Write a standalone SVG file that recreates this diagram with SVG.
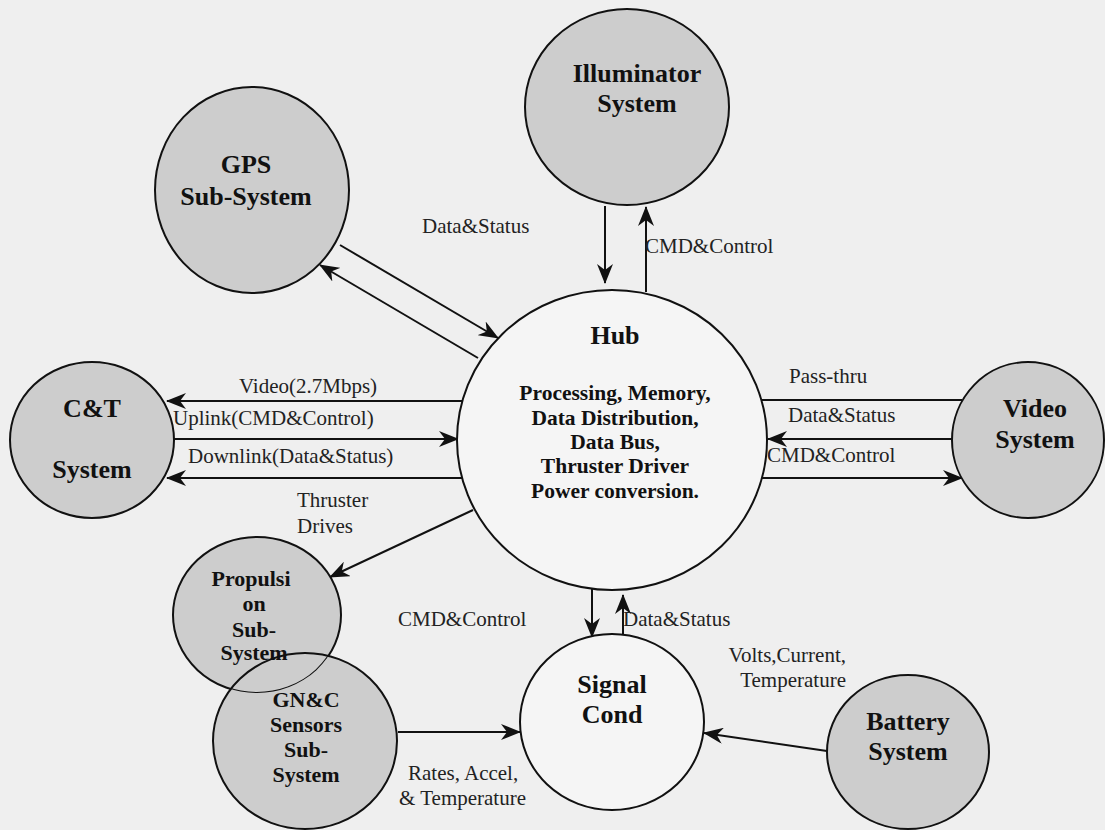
<svg xmlns="http://www.w3.org/2000/svg" width="1105" height="830" viewBox="0 0 1105 830">
<style>
.node{fill:#cdcdcd;stroke:#111;stroke-width:2}
.white{fill:#f5f5f5;stroke:#111;stroke-width:2}
.nt{font-family:"Liberation Serif","Times New Roman",serif;font-weight:bold;font-size:26px;fill:#111;text-anchor:middle}
.hb{font-family:"Liberation Serif","Times New Roman",serif;font-weight:bold;font-size:21.5px;fill:#111;text-anchor:middle}
.sm{font-family:"Liberation Serif","Times New Roman",serif;font-weight:bold;font-size:22px;fill:#111;text-anchor:middle}
.lb{font-family:"Liberation Serif","Times New Roman",serif;font-size:21px;fill:#222}
.c{fill:none;stroke:#111;stroke-width:2}
.a{marker-end:url(#ah)}
</style>
<defs>
<marker id="ah" markerUnits="userSpaceOnUse" viewBox="0 0 20 16" refX="19" refY="8" markerWidth="20" markerHeight="16" orient="auto">
<path d="M0,0 L20,8 L0,16 L6,8 Z" fill="#111"/>
</marker>
<mask id="gncMask" maskUnits="userSpaceOnUse" x="0" y="0" width="1105" height="830">
<rect x="0" y="0" width="1105" height="830" fill="#fff"/>
<ellipse cx="257" cy="615" rx="84" ry="78" fill="#000"/>
</mask>
</defs>
<rect x="0" y="0" width="1105" height="830" fill="#efefef"/>

<g id="connectors">
<line class="c a" x1="340" y1="245" x2="498" y2="338"/>
<line class="c a" x1="478" y1="358" x2="320" y2="265"/>
<line class="c a" x1="605" y1="206" x2="605" y2="283"/>
<line class="c a" x1="646" y1="292" x2="646" y2="207"/>
<line class="c a" x1="462" y1="401" x2="167" y2="401"/>
<line class="c a" x1="173" y1="439" x2="458" y2="439"/>
<line class="c a" x1="462" y1="478" x2="167" y2="478"/>
<line class="c" x1="762" y1="400" x2="962" y2="400"/>
<line class="c a" x1="953" y1="439" x2="768" y2="439"/>
<line class="c a" x1="762" y1="478" x2="962" y2="478"/>
<line class="c a" x1="473" y1="510" x2="330" y2="577"/>
<line class="c a" x1="592" y1="589" x2="592" y2="637"/>
<line class="c a" x1="623" y1="636" x2="623" y2="595"/>
<line class="c a" x1="398" y1="732" x2="520" y2="732"/>
<line class="c a" x1="827" y1="751" x2="704" y2="733"/>

<text class="lb" x="422" y="233">Data&amp;Status</text>
<text class="lb" x="645" y="253">CMD&amp;Control</text>
<text class="lb" x="308" y="393" text-anchor="middle">Video(2.7Mbps)</text>
<text class="lb" x="173" y="425">Uplink(CMD&amp;Control)</text>
<text class="lb" x="188" y="463">Downlink(Data&amp;Status)</text>
<text class="lb" x="297" y="507">Thruster</text>
<text class="lb" x="297" y="533">Drives</text>
<text class="lb" x="789" y="383">Pass-thru</text>
<text class="lb" x="788" y="422">Data&amp;Status</text>
<text class="lb" x="767" y="462">CMD&amp;Control</text>
<text class="lb" x="398" y="626">CMD&amp;Control</text>
<text class="lb" x="623" y="626">Data&amp;Status</text>
<text class="lb" x="846" y="662" text-anchor="end">Volts,Current,</text>
<text class="lb" x="846" y="687" text-anchor="end">Temperature</text>
<text class="lb" x="408" y="780">Rates, Accel,</text>
<text class="lb" x="399" y="805">&amp; Temperature</text>
</g>

<g id="gps">
<ellipse class="node" cx="252" cy="190" rx="97" ry="103"/>
<text class="nt" x="246" y="173">GPS</text>
<text class="nt" x="246" y="205">Sub-System</text>
</g>

<g id="illuminator">
<ellipse class="node" cx="627" cy="107" rx="102" ry="98"/>
<text class="nt" x="637" y="82">Illuminator</text>
<text class="nt" x="637" y="112">System</text>
</g>

<g id="ct">
<ellipse class="node" cx="92" cy="440" rx="82" ry="78"/>
<text class="nt" x="92" y="417">C&amp;T</text>
<text class="nt" x="92" y="478">System</text>
</g>

<g id="hub">
<ellipse class="white" cx="612" cy="440" rx="155" ry="150"/>
<text class="nt" x="615" y="344">Hub</text>
<text class="hb" x="615" y="400">Processing, Memory,</text>
<text class="hb" x="615" y="425">Data Distribution,</text>
<text class="hb" x="615" y="449">Data Bus,</text>
<text class="hb" x="615" y="473">Thruster Driver</text>
<text class="hb" x="615" y="498">Power conversion.</text>
</g>

<g id="video">
<ellipse class="node" cx="1028" cy="440" rx="76" ry="78"/>
<text class="nt" x="1035" y="417">Video</text>
<text class="nt" x="1035" y="448">System</text>
</g>

<g id="propulsion">
<ellipse class="node" cx="257" cy="615" rx="84" ry="78"/>
<text class="sm" x="251" y="586">Propulsi</text>
<text class="sm" x="254" y="611">on</text>
<text class="sm" x="254" y="637">Sub-</text>
<text class="sm" x="254" y="660">System</text>
</g>

<g id="gnc">
<ellipse cx="305" cy="741" rx="92" ry="88" fill="#cdcdcd" mask="url(#gncMask)"/>
<ellipse cx="305" cy="741" rx="92" ry="88" fill="none" stroke="#111" stroke-width="2"/>
<text class="sm" x="306" y="707">GN&amp;C</text>
<text class="sm" x="306" y="732">Sensors</text>
<text class="sm" x="306" y="757">Sub-</text>
<text class="sm" x="306" y="782">System</text>
</g>

<g id="signal">
<ellipse class="white" cx="612" cy="722" rx="92" ry="88"/>
<text class="nt" x="612" y="693">Signal</text>
<text class="nt" x="612" y="723">Cond</text>
</g>

<g id="battery">
<ellipse class="node" cx="908" cy="752" rx="81" ry="77"/>
<text class="nt" x="908" y="730">Battery</text>
<text class="nt" x="908" y="760">System</text>
</g>
</svg>
